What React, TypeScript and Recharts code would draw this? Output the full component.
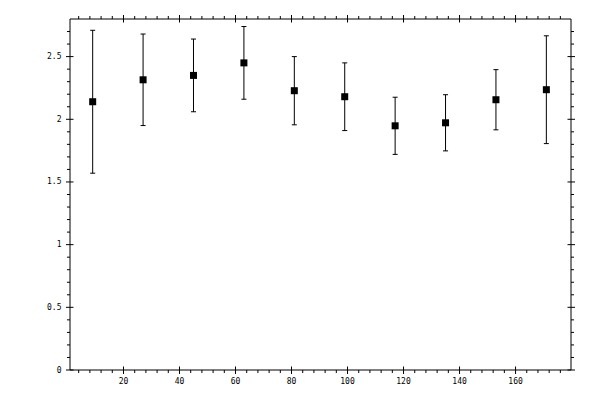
import React from "react";
import { ScatterChart, Scatter, XAxis, YAxis, ErrorBar } from "recharts";

// ── Data ───────────────────────────────────────────────────────────────────────
const xValues = [9, 27, 45, 63, 81, 99, 117, 135, 153, 171];
const yValues = [2.14, 2.315, 2.35, 2.45, 2.228, 2.18, 1.948, 1.972, 2.156, 2.236];
const yErrors = [0.57, 0.365, 0.29, 0.29, 0.272, 0.27, 0.228, 0.224, 0.24, 0.43];

const xMajor = [20, 40, 60, 80, 100, 120, 140, 160];
const yMajor = [0, 0.5, 1, 1.5, 2, 2.5];
const yMajorLabels = ["0", "0.5", "1", "1.5", "2", "2.5"];

// minor ticks: every 4 on x, every 0.1 on y
const xMinor = [4, 8, 12, 16, 24, 28, 32, 36, 44, 48, 52, 56, 64, 68, 72, 76, 84, 88, 92, 96,
  104, 108, 112, 116, 124, 128, 132, 136, 144, 148, 152, 156, 164, 168, 172, 176];
const yMinor = [0.1, 0.2, 0.3, 0.4, 0.6, 0.7, 0.8, 0.9, 1.1, 1.2, 1.3, 1.4, 1.6, 1.7, 1.8, 1.9,
  2.1, 2.2, 2.3, 2.4, 2.6, 2.7];

const data = xValues.map((x, i) => ({ x, y: yValues[i], err: yErrors[i] }));

const xTicks = [...xMinor, ...xMajor].sort((a, b) => a - b);
const yTicks = [...yMinor, ...yMajor].sort((a, b) => a - b);

const X_DOMAIN: [number, number] = [0.9, 179.8];
const Y_DOMAIN: [number, number] = [0, 2.8];

const FONT = "'DejaVu Sans Mono', monospace";

type Side = "top" | "bottom" | "left" | "right";

// ── Tick: major ticks cross the axis, minor ticks point outward ───────────────
function renderTick(props: any, side: Side) {
  const { x, y, payload } = props;
  const v = payload.value as number;
  const isMajor = side === "top" || side === "bottom" ? xMajor.includes(v) : yMajor.includes(v);
  const out = isMajor ? 4 : 3;
  const inn = isMajor ? 3.5 : 0;
  let line;
  if (side === "bottom") line = <line x1={x} x2={x} y1={y - inn} y2={y + out} />;
  else if (side === "top") line = <line x1={x} x2={x} y1={y - out} y2={y + inn} />;
  else if (side === "left") line = <line x1={x - out} x2={x + inn} y1={y} y2={y} />;
  else line = <line x1={x - inn} x2={x + out} y1={y} y2={y} />;

  let label = null;
  if (isMajor && side === "bottom") {
    label = (
      <text x={x} y={y + 11} textAnchor="middle" dominantBaseline="middle" fontSize={8} fontFamily={FONT} fill="#000">
        {v}
      </text>
    );
  } else if (isMajor && side === "left") {
    label = (
      <text x={x - 8.5} y={y} textAnchor="end" dominantBaseline="middle" fontSize={8} fontFamily={FONT} fill="#000">
        {yMajorLabels[yMajor.indexOf(v)]}
      </text>
    );
  }
  return (
    <g>
      <g stroke="#000" strokeWidth={1}>{line}</g>
      {label}
    </g>
  );
}

const Square = (props: any) => {
  const { cx, cy } = props;
  return <rect x={cx - 3.5} y={cy - 3.5} width={7} height={7} fill="#000" />;
};

export default function App() {
  const axisCommon = {
    type: "number" as const,
    interval: 0 as const,
    tickSize: 0,
    tickMargin: 0,
    tickLine: false,
    allowDataOverflow: true,
    axisLine: { stroke: "#000", strokeWidth: 1 },
  };
  return (
    <div style={{ position: "absolute", left: 0, top: 0, width: 600, height: 400, background: "#fff" }}>
      <ScatterChart width={600} height={400} margin={{ top: 18, right: 28, bottom: 29, left: 69 }}>
        <XAxis xAxisId="b" orientation="bottom" dataKey="x" domain={X_DOMAIN} ticks={xTicks} height={1}
          tick={(p: any) => renderTick(p, "bottom")} {...axisCommon} />
        <XAxis xAxisId="t" orientation="top" dataKey="x" domain={X_DOMAIN} ticks={xTicks} height={1}
          tick={(p: any) => renderTick(p, "top")} {...axisCommon} />
        <YAxis yAxisId="l" orientation="left" dataKey="y" domain={Y_DOMAIN} ticks={yTicks} width={1}
          tick={(p: any) => renderTick(p, "left")} {...axisCommon} />
        <YAxis yAxisId="r" orientation="right" dataKey="y" domain={Y_DOMAIN} ticks={yTicks} width={1}
          tick={(p: any) => renderTick(p, "right")} {...axisCommon} />
        <Scatter data={data} xAxisId="b" yAxisId="l" shape={<Square />} isAnimationActive={false}>
          <ErrorBar dataKey="err" direction="y" width={2.5} stroke="#000" strokeWidth={1} isAnimationActive={false} />
        </Scatter>
      </ScatterChart>
    </div>
  );
}
